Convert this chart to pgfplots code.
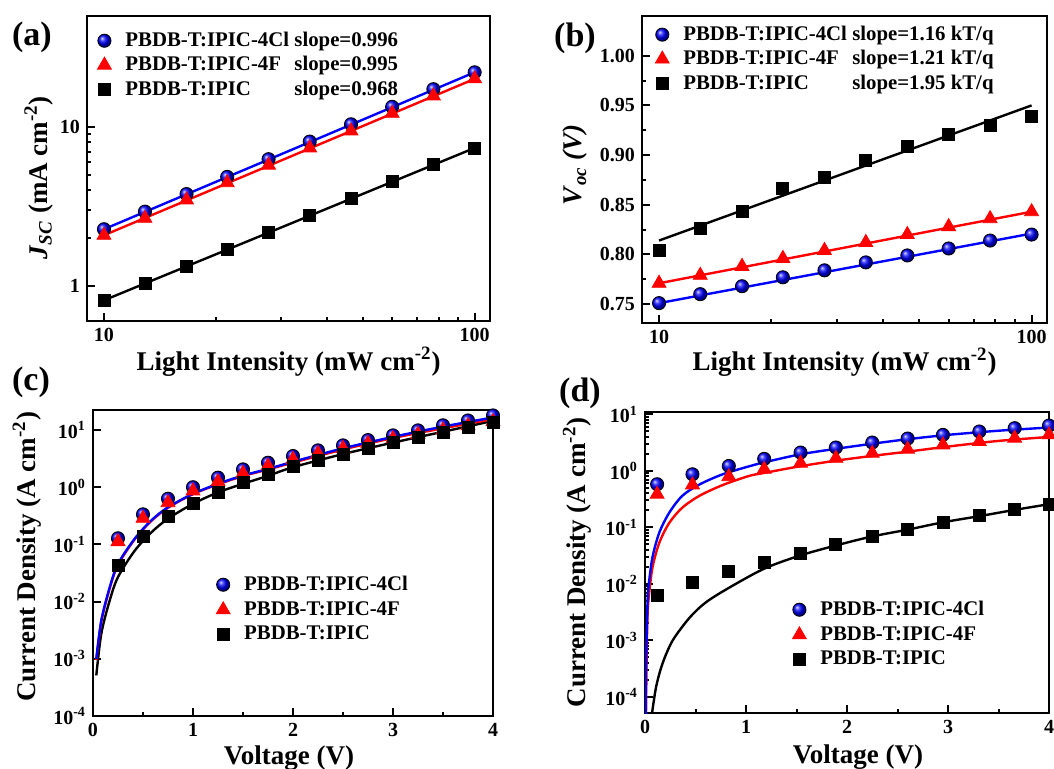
\documentclass[border=0pt]{standalone}
\usepackage{fontspec}
\setmainfont{Liberation Serif}
\usepackage{pgfplots}
\pgfplotsset{compat=1.18}

\pgfplotsset{
  panel/.style={
    scale only axis, anchor=south west,
    axis line style={line width=1.2pt},
    tick align=inside, tick pos=left,
    major tick length=4pt, minor tick length=2.2pt,
    every tick/.style={black, line width=1pt},
    tick label style={font=\fontsize{10}{12}\selectfont\bfseries},
    label style={font=\fontsize{13.5}{16}\selectfont\bfseries},
    /pgf/number format/assume math mode=true,
    legend cell align=left,
    legend style={draw=none, fill=none, anchor=north west,
      font=\fontsize{10.4}{12}\selectfont\bfseries, row sep=-0.5pt,
      /tikz/every odd column/.append style={column sep=5pt}},
  },
  fit/.style={line width=1.2pt, forget plot, no marks},
  cl/.style={only marks, mark=ball, mark size=3.3pt, ball color=blue},
  ff/.style={only marks, mark=triangle*, mark size=4pt, color=red},
  ic/.style={only marks, mark=square*, mark size=3pt, color=black},
}
\newcommand{\sq}{\textsuperscript{-2}}

\begin{document}
\begin{tikzpicture}
\path[use as bounding box] (0,0) rectangle (527pt,-384.5pt);

% (a) Jsc vs light intensity
\begin{axis}[panel, at={(43.5pt,-160.5pt)}, width=201.5pt, height=152.5pt,
  xmode=log, ymode=log, xmin=9, xmax=110, ymin=0.6, ymax=50,
  xtick={10,100}, xticklabels={10,100}, ytick={1,10}, yticklabels={1,10},
  xlabel={Light Intensity (mW cm\sq)},
  ylabel={\textit{J}\textsubscript{\textit{SC}} (mA cm\sq)},
  xlabel style={at={(axis description cs:0.5,-0.134)}, anchor=center},
  ylabel style={at={(axis description cs:-0.12,0.47)}, anchor=center},
  legend style={at={(0.01,0.975)}}]
\addplot[fit, blue] coordinates {(10,2.27)(100,22.1)};
\addplot[fit, red] coordinates {(10,2.08)(100,20.1)};
\addplot[fit, black] coordinates {(10,0.81)(100,7.38)};
\addplot[cl] coordinates {(10,2.27)(12.9,2.93)(16.7,3.78)(21.5,4.85)(27.8,6.27)(35.9,8.09)(46.4,10.4)(59.9,13.4)(77.4,17.3)(100,22.1)};
\addlegendentry{\makebox[84.5pt][l]{PBDB-T:IPIC-4Cl}slope=0.996}
\addplot[ff] coordinates {(10,2.08)(12.9,2.66)(16.7,3.47)(21.5,4.46)(27.8,5.75)(35.9,7.38)(46.4,9.44)(59.9,12.2)(77.4,15.7)(100,20.1)};
\addlegendentry{\makebox[84.5pt][l]{PBDB-T:IPIC-4F}slope=0.995}
\addplot[ic] coordinates {(10,0.81)(12.9,1.03)(16.7,1.32)(21.5,1.70)(27.8,2.17)(35.9,2.79)(46.4,3.57)(59.9,4.52)(77.4,5.78)(100,7.38)};
\addlegendentry{\makebox[84.5pt][l]{PBDB-T:IPIC}slope=0.968}
\end{axis}

% (b) Voc vs light intensity
\begin{axis}[panel, at={(321pt,-161.5pt)}, width=202.5pt, height=153.5pt,
  xmode=log, xmin=9, xmax=110, ymin=0.731, ymax=1.04,
  xtick={10,100}, xticklabels={10,100},
  ytick={0.75,0.8,0.85,0.9,0.95,1.0}, minor y tick num=1,
  yticklabel style={/pgf/number format/.cd, fixed, fixed zerofill, precision=2},
  xlabel={Light Intensity (mW cm\sq)},
  ylabel={\textit{V}\textsubscript{\textit{oc}} \textit{(V)}},
  xlabel style={at={(axis description cs:0.5,-0.127)}, anchor=center},
  ylabel style={at={(axis description cs:-0.165,0.515)}, anchor=center},
  legend style={at={(0.017,0.995)}}]
\addplot[fit, blue] coordinates {(10,0.751)(100,0.821)};
\addplot[fit, red] coordinates {(10,0.771)(100,0.843)};
\addplot[fit, black] coordinates {(10,0.814)(100,0.950)};
\addplot[cl] coordinates {(10,0.751)(12.9,0.760)(16.7,0.768)(21.5,0.777)(27.8,0.784)(35.9,0.792)(46.4,0.799)(59.9,0.806)(77.4,0.814)(100,0.820)};
\addlegendentry{\makebox[84.5pt][l]{PBDB-T:IPIC-4Cl}slope=1.16 kT/q}
\addplot[ff] coordinates {(10,0.771)(12.9,0.779)(16.7,0.788)(21.5,0.796)(27.8,0.804)(35.9,0.812)(46.4,0.820)(59.9,0.828)(77.4,0.836)(100,0.843)};
\addlegendentry{\makebox[84.5pt][l]{PBDB-T:IPIC-4F}slope=1.21 kT/q}
\addplot[ic] coordinates {(10,0.804)(12.9,0.826)(16.7,0.843)(21.5,0.866)(27.8,0.878)(35.9,0.895)(46.4,0.909)(59.9,0.921)(77.4,0.930)(100,0.939)};
\addlegendentry{\makebox[84.5pt][l]{PBDB-T:IPIC}slope=1.95 kT/q}
\end{axis}

% (c) J-V, log scale
\begin{axis}[panel, at={(46.5pt,-358pt)}, width=200pt, height=153pt,
  ymode=log, xmin=0, xmax=4, ymin=1e-4, ymax=22.4,
  xtick={0,1,2,3,4}, minor x tick num=1,
  ytick={1e-4,1e-3,1e-2,1e-1,1,10}, yminorticks=false,
  yticklabels={10\textsuperscript{-4},10\textsuperscript{-3},10\textsuperscript{-2},10\textsuperscript{-1},10\textsuperscript{0},10\textsuperscript{1}},
  xlabel={Voltage (V)}, ylabel={Current Density (A cm\sq)},
  xlabel style={at={(axis description cs:0.49,-0.137)}, anchor=center},
  ylabel style={at={(axis description cs:-0.165,0.52)}, anchor=center},
  legend style={at={(0.292,0.485)}, row sep=0pt}]
\addplot[fit, black, smooth] coordinates {(0.033,5.13e-4)(0.083,2.75e-3)(0.167,1.047e-2)(0.25,2.69e-2)(0.417,7.76e-2)(0.583,0.162)(0.75,0.282)(1.0,0.513)(1.25,0.813)(1.5,1.148)(1.75,1.585)(2.0,2.239)(2.5,3.802)(3.0,6.026)(3.5,9.333)(4.0,14.45)};
\addplot[fit, red, smooth] coordinates {(0.033,9.55e-4)(0.083,4.47e-3)(0.167,1.70e-2)(0.25,4.37e-2)(0.417,0.123)(0.583,0.257)(0.75,0.437)(1.0,0.759)(1.25,1.122)(1.5,1.567)(1.75,2.042)(2.0,2.692)(2.5,4.571)(3.0,7.244)(3.5,10.72)(4.0,15.49)};
\addplot[fit, blue, smooth] coordinates {(0.033,1.0e-3)(0.083,4.68e-3)(0.167,1.778e-2)(0.25,4.57e-2)(0.417,0.126)(0.583,0.263)(0.75,0.447)(1.0,0.767)(1.25,1.148)(1.5,1.603)(1.75,2.089)(2.0,2.79)(2.5,4.786)(3.0,7.586)(3.5,11.48)(4.0,16.6)};
\addplot[cl] coordinates {(0.25,0.128)(0.5,0.336)(0.75,0.63)(1.0,1.0)(1.25,1.47)(1.5,2.05)(1.75,2.68)(2.0,3.51)(2.25,4.41)(2.5,5.39)(2.75,6.68)(3.0,8.07)(3.25,9.87)(3.5,12.1)(3.75,14.7)(4.0,18.0)};
\addlegendentry{PBDB-T:IPIC-4Cl}
\addplot[ff] coordinates {(0.25,0.112)(0.5,0.286)(0.75,0.537)(1.0,0.86)(1.25,1.25)(1.5,1.75)(1.75,2.35)(2.0,3.07)(2.25,3.91)(2.5,4.78)(2.75,5.85)(3.0,7.05)(3.25,8.4)(3.5,10.0)(3.75,11.9)(4.0,14.0)};
\addlegendentry{PBDB-T:IPIC-4F}
\addplot[ic] coordinates {(0.25,0.0425)(0.5,0.14)(0.75,0.305)(1.0,0.52)(1.25,0.80)(1.5,1.2)(1.75,1.70)(2.0,2.28)(2.25,3.0)(2.5,3.81)(2.75,4.78)(3.0,6.0)(3.25,7.45)(3.5,8.98)(3.75,11.1)(4.0,13.4)};
\addlegendentry{PBDB-T:IPIC}
\end{axis}

% (d) J-V, log scale
\begin{axis}[panel, at={(322.5pt,-356.5pt)}, width=202pt, height=150.5pt,
  ymode=log, xmin=0, xmax=4, ymin=5.2e-5, ymax=11,
  xtick={0,1,2,3,4}, minor x tick num=1,
  ytick={1e-4,1e-3,1e-2,1e-1,1,10},
  yticklabels={10\textsuperscript{-4},10\textsuperscript{-3},10\textsuperscript{-2},10\textsuperscript{-1},10\textsuperscript{0},10\textsuperscript{1}},
  xlabel={Voltage (V)}, ylabel={Current Density (A cm\sq)},
  xlabel style={at={(axis description cs:0.527,-0.146)}, anchor=center},
  ylabel style={at={(axis description cs:-0.168,0.5)}, anchor=center},
  legend style={at={(0.349,0.4)}, row sep=0pt}]
\addplot[fit, black, smooth] coordinates {(0.065,4.47e-5)(0.11,1.51e-4)(0.175,3.98e-4)(0.274,1.0e-3)(0.44,2.51e-3)(0.6,4.68e-3)(0.83,8.51e-3)(1.18,1.86e-2)(1.53,3.16e-2)(1.89,4.79e-2)(2.25,6.92e-2)(2.6,9.12e-2)(2.95,0.123)(3.31,0.158)(3.66,0.204)(4.0,0.257)};
\addplot[fit, red, smooth] coordinates {(0.01,5.0e-5)(0.016,5.0e-4)(0.026,3.09e-3)(0.043,7.41e-3)(0.076,2.04e-2)(0.142,5.37e-2)(0.24,0.120)(0.37,0.224)(0.54,0.363)(0.77,0.562)(1.03,0.813)(1.17,0.912)(1.53,1.202)(1.89,1.514)(2.25,1.841)(2.6,2.188)(3.0,2.692)(3.5,3.388)(4.0,3.981)};
\addplot[fit, blue, smooth] coordinates {(0.006,5.0e-5)(0.012,5.0e-4)(0.026,5.25e-3)(0.043,1.20e-2)(0.076,3.09e-2)(0.142,8.13e-2)(0.24,0.182)(0.37,0.363)(0.54,0.575)(0.77,0.871)(1.03,1.202)(1.18,1.413)(1.53,1.950)(1.89,2.455)(2.25,3.020)(2.6,3.631)(3.0,4.335)(3.5,5.129)(4.0,5.848)};
\addplot[cl] coordinates {(0.12,0.58)(0.47,0.87)(0.83,1.22)(1.18,1.63)(1.54,2.11)(1.89,2.59)(2.25,3.17)(2.60,3.73)(2.95,4.33)(3.31,4.97)(3.66,5.69)(4.0,6.34)};
\addlegendentry{PBDB-T:IPIC-4Cl}
\addplot[ff] coordinates {(0.12,0.386)(0.47,0.565)(0.83,0.79)(1.18,1.07)(1.54,1.37)(1.89,1.67)(2.25,2.05)(2.60,2.42)(2.95,2.88)(3.31,3.30)(3.66,3.79)(4.0,4.34)};
\addlegendentry{PBDB-T:IPIC-4F}
\addplot[ic] coordinates {(0.12,0.00638)(0.47,0.0106)(0.83,0.0165)(1.18,0.0245)(1.54,0.0349)(1.89,0.049)(2.25,0.0688)(2.60,0.0904)(2.95,0.122)(3.31,0.16)(3.66,0.204)(4.0,0.257)};
\addlegendentry{PBDB-T:IPIC}
\end{axis}

\node[font=\fontsize{17}{20}\selectfont\bfseries] at (16pt,-18.5pt) {(a)};
\node[font=\fontsize{17}{20}\selectfont\bfseries] at (287.5pt,-19pt) {(b)};
\node[font=\fontsize{17}{20}\selectfont\bfseries] at (15.5pt,-191pt) {(c)};
\node[font=\fontsize{17}{20}\selectfont\bfseries] at (290pt,-196.5pt) {(d)};
\end{tikzpicture}
\end{document}
